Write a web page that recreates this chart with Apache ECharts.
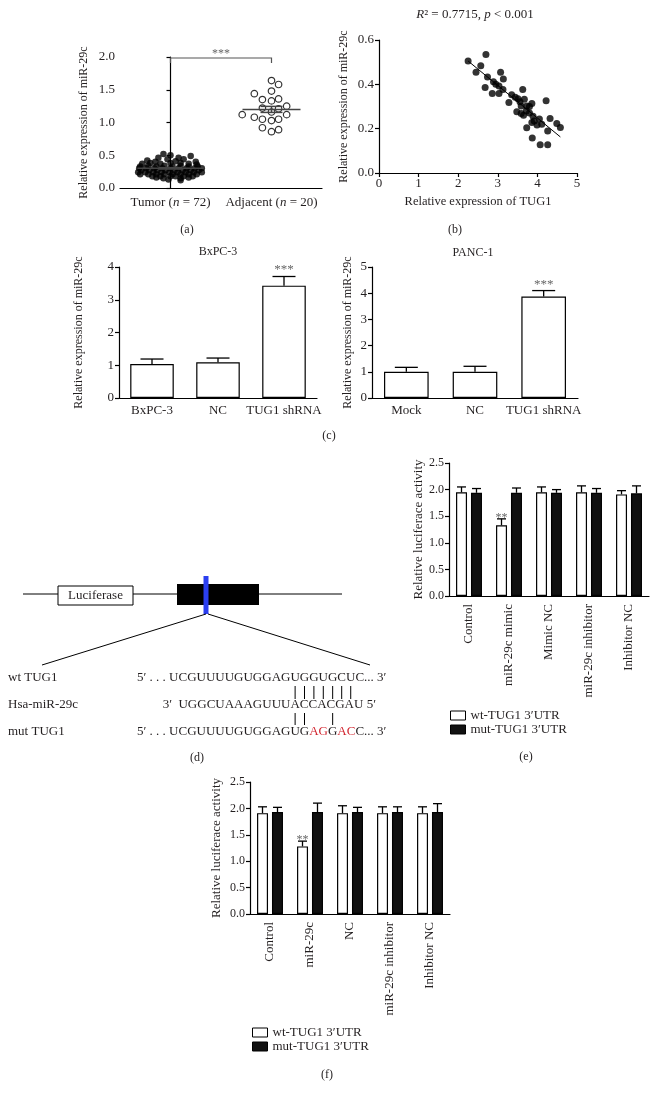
<!DOCTYPE html>
<html>
<head>
<meta charset="utf-8">
<script src="https://cdn.jsdelivr.net/npm/echarts@6/dist/echarts.min.js"></script>
<style>
  html, body { margin: 0; padding: 0; background: #fff; }
  #chart { width: 658px; height: 1101px; }
</style>
</head>
<body>
<div id="chart"></div>
<script>
const FONT = '"Liberation Serif", "Times New Roman", serif';
const INK = '#231f20';
const RED = '#d22630';

// (a) scatter of miR-29c in tumour vs adjacent tissue
const groupNames = ['Tumor', 'Adjacent'];
const groupN = [72, 20];
// [horizontal jitter within group, value]
const tumorPoints = [
  [-0.07, 0.52], [0.0, 0.50], [0.20, 0.49], [-0.12, 0.46], [0.08, 0.46], [0.13, 0.44], [-0.03, 0.44],
  [-0.23, 0.42], [0.25, 0.40], [-0.15, 0.40], [0.05, 0.41],
  [-0.28, 0.37], [-0.20, 0.38], [-0.10, 0.37], [0.0, 0.38], [0.10, 0.38], [0.18, 0.37], [0.26, 0.36],
  [-0.30, 0.33], [-0.22, 0.34], [-0.14, 0.33], [-0.06, 0.34], [0.02, 0.33], [0.10, 0.34], [0.18, 0.33], [0.27, 0.33],
  [-0.31, 0.30], [-0.24, 0.30], [-0.16, 0.30], [-0.08, 0.30], [0.0, 0.30], [0.08, 0.30], [0.16, 0.30], [0.24, 0.30], [0.31, 0.30],
  [-0.29, 0.27], [-0.21, 0.27], [-0.13, 0.27], [-0.05, 0.27], [0.04, 0.27], [0.12, 0.27], [0.20, 0.27], [0.28, 0.27],
  [-0.32, 0.24], [-0.25, 0.24], [-0.17, 0.24], [-0.09, 0.24], [-0.01, 0.24], [0.07, 0.24], [0.15, 0.24], [0.23, 0.24], [0.31, 0.24],
  [-0.30, 0.21], [-0.22, 0.21], [-0.14, 0.21], [-0.06, 0.21], [0.02, 0.21], [0.10, 0.21], [0.18, 0.21], [0.26, 0.21],
  [-0.18, 0.18], [-0.10, 0.18], [0.05, 0.18], [0.13, 0.18], [0.22, 0.18],
  [-0.07, 0.15], [0.10, 0.15], [0.18, 0.16],
  [-0.02, 0.13], [0.10, 0.12], [-0.14, 0.16], [0.0, 0.18]
];
const adjacentPoints = [
  [0.0, 1.64], [0.07, 1.58], [-0.17, 1.44], [0.0, 1.48], [-0.09, 1.35], [0.0, 1.33], [0.07, 1.36],
  [-0.09, 1.22], [0.0, 1.16], [0.07, 1.21], [0.15, 1.25], [-0.29, 1.12], [-0.17, 1.08], [-0.09, 1.05],
  [0.0, 1.03], [0.07, 1.05], [0.15, 1.12], [-0.09, 0.92], [0.07, 0.89], [0.0, 0.86]
];
const groupMean = [0.30, 1.20];
const groupSem = [0.01, 0.046];
const groupSig = '***';

// (b) correlation TUG1 vs miR-29c
const tug1Level = [2.25, 2.70, 2.57, 2.45, 2.74, 3.07, 2.89, 2.95, 3.03, 3.14, 2.68, 2.86, 3.03, 3.13, 3.35,
  3.44, 3.51, 3.63, 3.28, 3.56, 3.67, 3.59, 3.73, 3.86, 3.48, 3.59, 3.65, 3.80, 3.89, 3.92,
  4.05, 3.86, 3.73, 4.11, 4.22, 4.32, 4.49, 4.58, 4.26, 3.87, 4.07, 4.26, 3.99, 3.80, 3.72];
const mir29cLevel = [0.505, 0.535, 0.484, 0.454, 0.433, 0.455, 0.412, 0.40, 0.392, 0.424, 0.386, 0.359, 0.359, 0.377, 0.353,
  0.342, 0.335, 0.377, 0.318, 0.321, 0.333, 0.302, 0.302, 0.314, 0.276, 0.268, 0.261, 0.271, 0.256, 0.235,
  0.244, 0.228, 0.204, 0.220, 0.326, 0.246, 0.223, 0.205, 0.189, 0.158, 0.128, 0.128, 0.216, 0.30, 0.28];
const fitSlope = -0.147;
const fitIntercept = 0.836;

// (c) qRT-PCR after TUG1 knockdown
const bxpcGroups = ['BxPC-3', 'NC', 'TUG1 shRNA'];
const bxpcMean = [1.04, 1.09, 3.43];
const bxpcErr = [0.15, 0.13, 0.28];
const bxpcSig = ['', '', '***'];
const pancGroups = ['Mock', 'NC', 'TUG1 shRNA'];
const pancMean = [1.0, 1.0, 3.87];
const pancErr = [0.17, 0.21, 0.23];
const pancSig = ['', '', '***'];

// (d) binding site sequences
const wtSeq = 'UCGUUUUGUGGAGUGGUGCUC';
const mutSeq = 'UCGUUUUGUGGAGUGAGGACC';
const mirSeq = 'UGGCUAAAGUUUACCACGAU';
const wtPaired = [13, 14, 15, 16, 17, 18, 19];
const mutPaired = [13, 14, 17];
const mutChanged = [15, 16, 18, 19];
const mirAnchor = 12; // miR letter under wtSeq[13]

// (e) and (f) luciferase reporter
const legendNames = ['wt-TUG1 3\u2032UTR', 'mut-TUG1 3\u2032UTR'];
const lucGroupsE = ['Control', 'miR-29c mimic', 'Mimic NC', 'miR-29c inhibitor', 'Inhibitor NC'];
const wtE = [1.95, 1.33, 1.95, 1.95, 1.91];
const wtErrE = [0.10, 0.12, 0.10, 0.12, 0.07];
const mutE = [1.94, 1.94, 1.94, 1.94, 1.93];
const mutErrE = [0.08, 0.09, 0.06, 0.08, 0.14];
const sigE = ['', '**', '', '', ''];
const lucGroupsF = ['Control', 'miR-29c', 'NC', 'miR-29c inhibitor', 'Inhibitor NC'];
const wtF = [1.91, 1.28, 1.91, 1.91, 1.91];
const wtErrF = [0.12, 0.10, 0.14, 0.12, 0.12];
const mutF = [1.93, 1.93, 1.93, 1.93, 1.93];
const mutErrF = [0.09, 0.17, 0.09, 0.10, 0.16];
const sigF = ['', '**', '', '', ''];

const lineSt = { color: '#000', width: 1.2 };

function catX(gridIndex, data, label) {
  return {
    type: 'category', gridIndex, data, boundaryGap: true,
    axisLine: { lineStyle: lineSt },
    axisTick: { alignWithLabel: true, length: 4, lineStyle: lineSt },
    axisLabel: Object.assign({ color: INK, fontFamily: FONT, fontSize: 13, margin: 6, interval: 0 }, label),
    splitLine: { show: false }
  };
}

function valY(gridIndex, min, max, interval, name, nameGap, fs, nameFs, digits) {
  return {
    type: 'value', gridIndex, min, max, interval,
    name, nameLocation: 'middle', nameGap,
    nameTextStyle: { color: INK, fontFamily: FONT, fontSize: nameFs },
    axisLine: { show: true, lineStyle: lineSt },
    axisTick: { show: true, length: 4, lineStyle: lineSt },
    axisLabel: { color: INK, fontFamily: FONT, fontSize: fs, margin: 5, formatter: v => v.toFixed(digits) },
    splitLine: { show: false }
  };
}

function errorBars(xi, yi, means, errs, sig, offset, capW, sigSize, sigDy) {
  return {
    type: 'custom', xAxisIndex: xi, yAxisIndex: yi, z: 5, silent: true,
    data: means.map((m, i) => [i, m, m + errs[i]]),
    renderItem: (params, api) => {
      const i = api.value(0);
      const base = api.coord([i, api.value(1)]);
      const top = api.coord([i, api.value(2)]);
      const x = base[0] + offset;
      const st = { stroke: '#000', lineWidth: 1.3 };
      const children = [
        { type: 'line', shape: { x1: x, y1: base[1], x2: x, y2: top[1] }, style: st },
        { type: 'line', shape: { x1: x - capW / 2, y1: top[1], x2: x + capW / 2, y2: top[1] }, style: st }
      ];
      if (sig && sig[i]) {
        children.push({
          type: 'text',
          style: {
            text: sig[i], x: x, y: top[1] + sigDy,
            textAlign: 'center', align: 'center', textVerticalAlign: 'bottom', verticalAlign: 'bottom',
            fill: '#666', fontSize: sigSize, fontFamily: FONT
          }
        });
      }
      return { type: 'group', children };
    }
  };
}

const whiteBar = { color: '#fff', borderColor: '#000', borderWidth: 1.2 };
const blackBar = { color: '#111', borderColor: '#000', borderWidth: 1.2 };

// (a) mean +/- SEM marks
const meanHalf = [33, 29];
const semHalf = [12, 11];

// fit line endpoints from data range
const xMin = Math.min(...tug1Level);
const xMax = Math.max(...tug1Level);

// ---------- panel (d) diagram ----------
const measureCtx = document.createElement('canvas').getContext('2d');
const SEQ_FS = 13;
function tw(s) {
  measureCtx.font = SEQ_FS + 'px ' + FONT;
  return measureCtx.measureText(s).width;
}
function txt(text, x, y, opts) {
  return {
    type: 'text', x, y, silent: true,
    style: Object.assign({
      text, fill: INK, fontSize: SEQ_FS, fontFamily: FONT,
      textAlign: 'left', align: 'left', textVerticalAlign: 'middle', verticalAlign: 'middle'
    }, opts || {})
  };
}
function seg(x1, y1, x2, y2, w) {
  return { type: 'line', silent: true, shape: { x1, y1, x2, y2 }, style: { stroke: '#000', lineWidth: w || 1 } };
}

const seqX = 137;
const rowWt = 678, rowMir = 705, rowMut = 732;
const pre5 = '5\u2032 . . . ';
const suf3 = '... 3\u2032';
const preMir = '3\u2032  ';
const sufMir = ' 5\u2032';
function letterCenter(seq, idx) {
  return seqX + tw(pre5 + seq.slice(0, idx)) + tw(seq[idx]) / 2;
}
const mirX = letterCenter(wtSeq, wtPaired[0]) - tw(preMir + mirSeq.slice(0, mirAnchor)) - tw(mirSeq[mirAnchor]) / 2;

const diagram = [
  seg(23, 594, 342, 594),
  { type: 'rect', silent: true, shape: { x: 58, y: 586, width: 75, height: 19 }, style: { fill: '#fff', stroke: '#000', lineWidth: 1 } },
  txt('Luciferase', 95.5, 596, { textAlign: 'center', align: 'center' }),
  { type: 'rect', silent: true, shape: { x: 177, y: 584, width: 82, height: 21 }, style: { fill: '#000' } },
  { type: 'rect', silent: true, shape: { x: 203.5, y: 576, width: 5, height: 38 }, style: { fill: '#2b3ff0' } },
  seg(206, 614, 42, 665),
  seg(208, 614, 370, 665),
  txt('wt TUG1', 8, rowWt),
  txt('Hsa-miR-29c', 8, rowMir),
  txt('mut TUG1', 8, rowMut),
  txt(pre5 + wtSeq + suf3, seqX, rowWt),
  txt(preMir + mirSeq + sufMir, mirX, rowMir)
];
wtPaired.forEach(i => {
  const x = letterCenter(wtSeq, i);
  diagram.push(seg(x, 686, x, 699, 1));
});
mutPaired.forEach(i => {
  const x = letterCenter(mutSeq, i);
  diagram.push(seg(x, 713, x, 725, 1));
});
// mutant sequence, changed letters in red
(function () {
  let x = seqX;
  diagram.push(txt(pre5, x, rowMut));
  x += tw(pre5);
  let run = '', runRed = null;
  const flush = () => {
    if (!run) return;
    diagram.push(txt(run, x, rowMut, { fill: runRed ? RED : INK }));
    x += tw(run);
    run = '';
  };
  for (let i = 0; i < mutSeq.length; i++) {
    const red = mutChanged.includes(i);
    if (runRed !== null && red !== runRed) flush();
    runRed = red;
    run += mutSeq[i];
  }
  flush();
  diagram.push(txt(suf3, x, rowMut));
})();

// panel labels and titles
const mid = { textAlign: 'center', align: 'center', fontSize: 12 };
const labels = [
  txt('(a)', 187, 230, mid),
  txt('(b)', 455, 230, mid),
  txt('(c)', 329, 436, mid),
  txt('(d)', 197, 758, mid),
  txt('(e)', 526, 757, mid),
  txt('(f)', 327, 1075, mid),
  txt('BxPC-3', 218, 252, mid),
  txt('PANC-1', 473, 253, mid),
  txt('{i|R}\u00b2 = 0.7715, {i|p} < 0.001', 475, 15, {
    textAlign: 'center', align: 'center', fontSize: 13,
    rich: { i: { fontStyle: 'italic', fontSize: 13, fontFamily: FONT, fill: INK, color: INK } }
  })
];

const chart = echarts.init(document.getElementById('chart'), null, { renderer: 'canvas' });

const legendBase = {
  data: legendNames, orient: 'vertical', padding: 0,
  icon: 'rect', itemWidth: 15, itemHeight: 9, itemGap: 1,
  itemStyle: { borderColor: '#000', borderWidth: 1 },
  textStyle: { color: INK, fontFamily: FONT, fontSize: 13 }, selectedMode: false
};

const option = {
  animation: false,
  backgroundColor: '#fff',
  textStyle: { fontFamily: FONT, color: INK },
  grid: [
    { left: 120, top: 57, width: 202, height: 131 },
    { left: 379, top: 40, width: 198, height: 133 },
    { left: 119, top: 267, width: 198, height: 131 },
    { left: 372, top: 267, width: 206, height: 131 },
    { left: 449, top: 463, width: 200, height: 133 },
    { left: 250, top: 782, width: 200, height: 132 }
  ],
  xAxis: [
    catX(0, groupNames, {
      margin: 8,
      formatter: (v, i) => v + ' ({i|n} = ' + groupN[i] + ')',
      rich: { i: { fontStyle: 'italic', fontFamily: FONT, fontSize: 13, color: INK } }
    }),
    { type: 'value', gridIndex: 0, min: -0.5, max: 1.5, show: false },
    {
      type: 'value', gridIndex: 1, min: 0, max: 5, interval: 1,
      name: 'Relative expression of TUG1', nameLocation: 'middle', nameGap: 22,
      nameTextStyle: { color: INK, fontFamily: FONT, fontSize: 12.5 },
      axisLine: { lineStyle: lineSt },
      axisTick: { length: 4, lineStyle: lineSt },
      axisLabel: { color: INK, fontFamily: FONT, fontSize: 13, margin: 4 },
      splitLine: { show: false }
    },
    catX(2, bxpcGroups, {}),
    catX(3, pancGroups, {}),
    catX(4, lucGroupsE, { rotate: 90, fontSize: 13, margin: 8 }),
    catX(5, lucGroupsF, { rotate: 90, fontSize: 13, margin: 8 })
  ],
  yAxis: [
    valY(0, 0, 2, 0.5, 'Relative expression of miR-29c', 30, 13, 12, 1),
    valY(1, 0, 0.6, 0.2, 'Relative expression of miR-29c', 29, 13, 12, 1),
    valY(2, 0, 4, 1, 'Relative expression of miR-29c', 34, 13, 12, 0),
    valY(3, 0, 5, 1, 'Relative expression of miR-29c', 18, 13, 12, 0),
    valY(4, 0, 2.5, 0.5, 'Relative luciferace activity', 23, 12, 13, 1),
    valY(5, 0, 2.5, 0.5, 'Relative luciferace activity', 27, 12, 13, 1)
  ],
  legend: [
    Object.assign({ left: 450, top: 709 }, legendBase),
    Object.assign({ left: 252, top: 1026 }, legendBase)
  ],
  graphic: { elements: diagram.concat(labels) },
  series: [
    // (a)
    {
      type: 'scatter', xAxisIndex: 1, yAxisIndex: 0, symbolSize: 6.5,
      data: tumorPoints.map(p => [0 + p[0], p[1]]),
      itemStyle: { color: '#000' }
    },
    {
      type: 'scatter', xAxisIndex: 1, yAxisIndex: 0, symbolSize: 6.5,
      data: adjacentPoints.map(p => [1 + p[0], p[1]]),
      itemStyle: { color: '#fff', borderColor: '#000', borderWidth: 1.2 }
    },
    {
      type: 'custom', xAxisIndex: 1, yAxisIndex: 0, z: 6, silent: true,
      data: groupMean.map((m, i) => [i, m, groupSem[i]]),
      renderItem: (params, api) => {
        const i = api.value(0), m = api.value(1), s = api.value(2);
        const c = api.coord([i, m]);
        const hi = api.coord([i, m + s]);
        const lo = api.coord([i, m - s]);
        const st = { stroke: '#444', lineWidth: 1.5 };
        return {
          type: 'group', children: [
            { type: 'line', shape: { x1: c[0] - meanHalf[i], y1: c[1], x2: c[0] + meanHalf[i], y2: c[1] }, style: st },
            { type: 'line', shape: { x1: c[0], y1: hi[1], x2: c[0], y2: lo[1] }, style: st },
            { type: 'line', shape: { x1: c[0] - semHalf[i], y1: hi[1], x2: c[0] + semHalf[i], y2: hi[1] }, style: st },
            { type: 'line', shape: { x1: c[0] - semHalf[i], y1: lo[1], x2: c[0] + semHalf[i], y2: lo[1] }, style: st }
          ]
        };
      }
    },
    {
      type: 'custom', xAxisIndex: 1, yAxisIndex: 0, z: 6, silent: true,
      data: [[0, 1, 1.985]],
      renderItem: (params, api) => {
        const a = api.coord([api.value(0), api.value(2)]);
        const b = api.coord([api.value(1), api.value(2)]);
        return {
          type: 'group', children: [
            { type: 'polyline', shape: { points: [[a[0], a[1] + 5], a, b, [b[0], b[1] + 5]] }, style: { stroke: '#555', lineWidth: 1.2, fill: null } },
            { type: 'text', style: { text: groupSig, x: (a[0] + b[0]) / 2, y: a[1] + 2, textAlign: 'center', align: 'center', textVerticalAlign: 'bottom', verticalAlign: 'bottom', fill: '#666', fontSize: 12, fontFamily: FONT } }
          ]
        };
      }
    },
    // (b)
    {
      type: 'scatter', xAxisIndex: 2, yAxisIndex: 1, symbolSize: 7,
      data: tug1Level.map((x, i) => [x, mir29cLevel[i]]),
      itemStyle: { color: '#000' }
    },
    {
      type: 'line', xAxisIndex: 2, yAxisIndex: 1, symbol: 'none', z: 3,
      data: [[xMin, fitIntercept + fitSlope * xMin], [xMax, fitIntercept + fitSlope * xMax]],
      lineStyle: { color: '#000', width: 1 }
    },
    // (c)
    { type: 'bar', xAxisIndex: 3, yAxisIndex: 2, barWidth: '66%', data: bxpcMean, itemStyle: whiteBar },
    errorBars(3, 2, bxpcMean, bxpcErr, bxpcSig, 0, 23, 13, 0),
    { type: 'bar', xAxisIndex: 4, yAxisIndex: 3, barWidth: '65%', data: pancMean, itemStyle: whiteBar },
    errorBars(4, 3, pancMean, pancErr, pancSig, 0, 23, 13, 0),
    // (e)
    { type: 'bar', name: legendNames[0], xAxisIndex: 5, yAxisIndex: 4, barWidth: 11, barGap: '36%', data: wtE, itemStyle: whiteBar },
    { type: 'bar', name: legendNames[1], xAxisIndex: 5, yAxisIndex: 4, barWidth: 11, barGap: '36%', data: mutE, itemStyle: blackBar },
    errorBars(5, 4, wtE, wtErrE, sigE, -7.5, 9, 12, 5),
    errorBars(5, 4, mutE, mutErrE, null, 7.5, 9, 12, 5),
    // (f)
    { type: 'bar', name: legendNames[0], xAxisIndex: 6, yAxisIndex: 5, barWidth: 11, barGap: '36%', data: wtF, itemStyle: whiteBar },
    { type: 'bar', name: legendNames[1], xAxisIndex: 6, yAxisIndex: 5, barWidth: 11, barGap: '36%', data: mutF, itemStyle: blackBar },
    errorBars(6, 5, wtF, wtErrF, sigF, -7.5, 9, 12, 5),
    errorBars(6, 5, mutF, mutErrF, null, 7.5, 9, 12, 5)
  ]
};

chart.setOption(option);
window.addEventListener('resize', () => chart.resize());
</script>
</body>
</html>
